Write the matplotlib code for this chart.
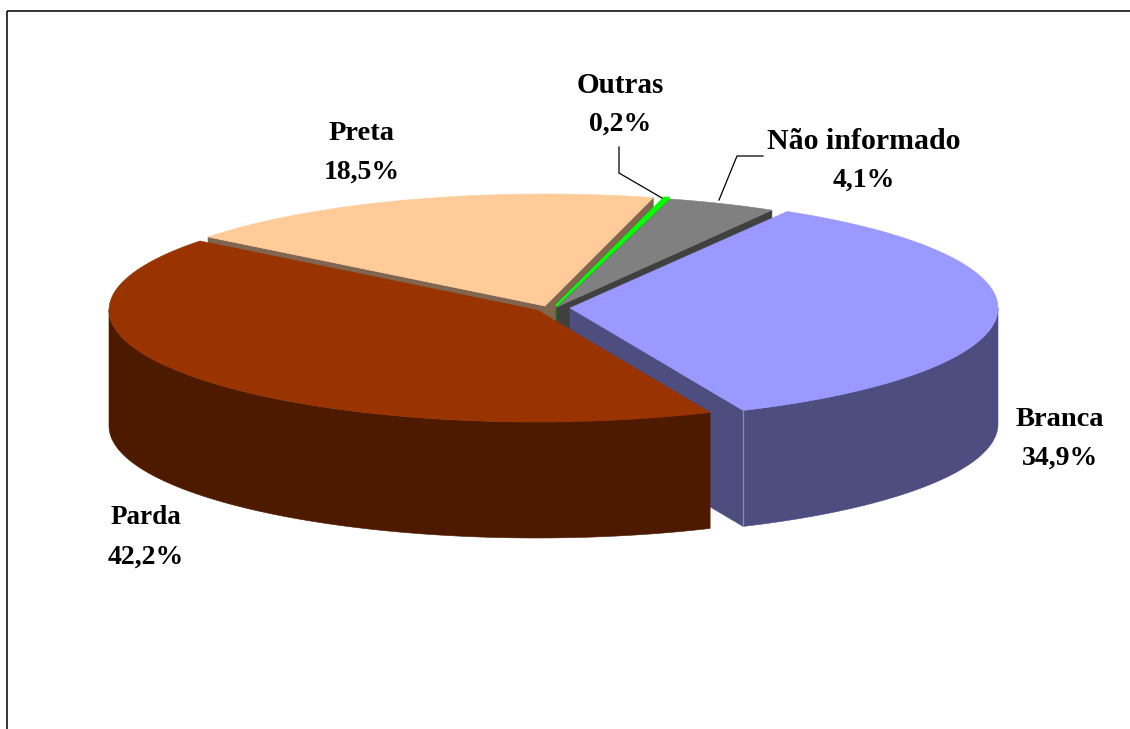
import numpy as np
import matplotlib
matplotlib.use('Agg')
import matplotlib.pyplot as plt
from matplotlib.patches import Polygon

# dados do grafico
categorias = ['Branca', 'Parda', 'Preta', 'Outras', 'Não informado']
valores = [34.9, 42.2, 18.5, 0.2, 4.1]
rotulos = ['34,9%', '42,2%', '18,5%', '0,2%', '4,1%']

cores_topo = ['#9999FF', '#993300', '#FFCC99', '#00FF00', '#808080']
cores_lado = ['#4D4D80', '#4D1A00', '#806650', '#008000', '#404040']

# geometria da pizza, em pixels
RX = 428
RY = 112
PROF = 116
INICIO = 59.5
vertices = {'Branca': (570, 308), 'Parda': (537, 310), 'Preta': (545, 306),
            'Outras': (556, 306), 'Não informado': (557, 307)}
pos_rotulos = {'Branca': (1060, 419), 'Parda': (146, 518), 'Preta': (362, 133),
               'Outras': (620, 85), 'Não informado': (864, 141)}
tam_nome = {'Branca': 20.5, 'Parda': 19.5, 'Preta': 20.5, 'Outras': 21, 'Não informado': 21.5}

plt.rcParams['font.family'] = ['Liberation Serif', 'DejaVu Serif']

fig = plt.figure(figsize=(11.3, 7.29), dpi=100)
ax = fig.add_axes([0, 0, 1, 1])
ax.set_xlim(0, 1130)
ax.set_ylim(729, 0)
ax.axis('off')

# angulos de cada fatia, no sentido horario
fim = INICIO - np.cumsum(valores) * 3.6
ini = np.concatenate([[INICIO], fim[:-1]])
fatias = {c: (a, b) for c, a, b in zip(categorias, ini, fim)}


def arco(cat, a=None, b=None):
    a0, b0 = fatias[cat]
    a = a0 if a is None else a
    b = b0 if b is None else b
    t = np.radians(np.linspace(a, b, 120))
    cx, cy = vertices[cat]
    return np.column_stack([cx + RX * np.cos(t), cy - RY * np.sin(t)])


def poligono(pts, cor, z, lw=0.4):
    ax.add_patch(Polygon(pts, closed=True, facecolor=cor, edgecolor=cor, lw=lw, zorder=z))


def face_corte(cat, ang, cor, z):
    # parede plana entre o centro e a borda
    cx, cy = vertices[cat]
    t = np.radians(ang)
    bx, by = cx + RX * np.cos(t), cy - RY * np.sin(t)
    poligono([(cx, cy), (bx, by), (bx, by + PROF), (cx, cy + PROF)], cor, z)


def parede(cat, a, b, cor, z):
    # parede externa curva
    pts = arco(cat, a, b)
    baixo = pts[::-1] + [0, PROF]
    poligono(np.vstack([pts, baixo]), cor, z)


def topo(cat, cor, z, lw=0.4):
    poligono(np.vstack([[vertices[cat]], arco(cat)]), cor, z, lw)


# desenha de tras para frente
cor = dict(zip(categorias, cores_topo))
lado = dict(zip(categorias, cores_lado))

face_corte('Preta', fatias['Preta'][1], lado['Preta'], 1)
face_corte('Preta', fatias['Preta'][0], lado['Preta'], 1)
topo('Preta', cor['Preta'], 2)

face_corte('Outras', fatias['Outras'][1], lado['Outras'], 3)
topo('Outras', cor['Outras'], 4, lw=1.6)

face_corte('Não informado', fatias['Não informado'][1], lado['Não informado'], 5)
topo('Não informado', cor['Não informado'], 6)

face_corte('Branca', fatias['Branca'][1], lado['Branca'], 7)
parede('Branca', 0, fatias['Branca'][1], lado['Branca'], 7)
topo('Branca', cor['Branca'], 8)
t_fim = np.radians(fatias['Branca'][1])
sx = vertices['Branca'][0] + RX * np.cos(t_fim)
sy = vertices['Branca'][1] - RY * np.sin(t_fim)
ax.plot([sx, sx], [sy, sy + PROF], color='#8C8CB8', lw=0.9, zorder=8)

parede('Parda', fatias['Branca'][1], -180, lado['Parda'], 9)
topo('Parda', cor['Parda'], 10)

# linhas de chamada
ax.plot([619, 619, 662], [147, 173, 198], color='black', lw=0.9, zorder=11)
ax.plot([763, 737, 719], [156, 156, 200], color='black', lw=0.9, zorder=11)

# rotulos
for c, r in zip(categorias, rotulos):
    x, y = pos_rotulos[c]
    ax.text(x, y, c, ha='center', va='center', fontsize=tam_nome[c], fontweight='bold', color='black')
    ax.text(x, y + 39, r, ha='center', va='center', fontsize=20, fontweight='bold', color='black')

# moldura (so topo e esquerda aparecem)
ax.plot([7, 1130], [11, 11], color='black', lw=1.1, solid_capstyle='butt', zorder=12)
ax.plot([7, 7], [11, 729], color='black', lw=1.1, solid_capstyle='butt', zorder=12)

fig.savefig('out.png', dpi=100, facecolor='white')
